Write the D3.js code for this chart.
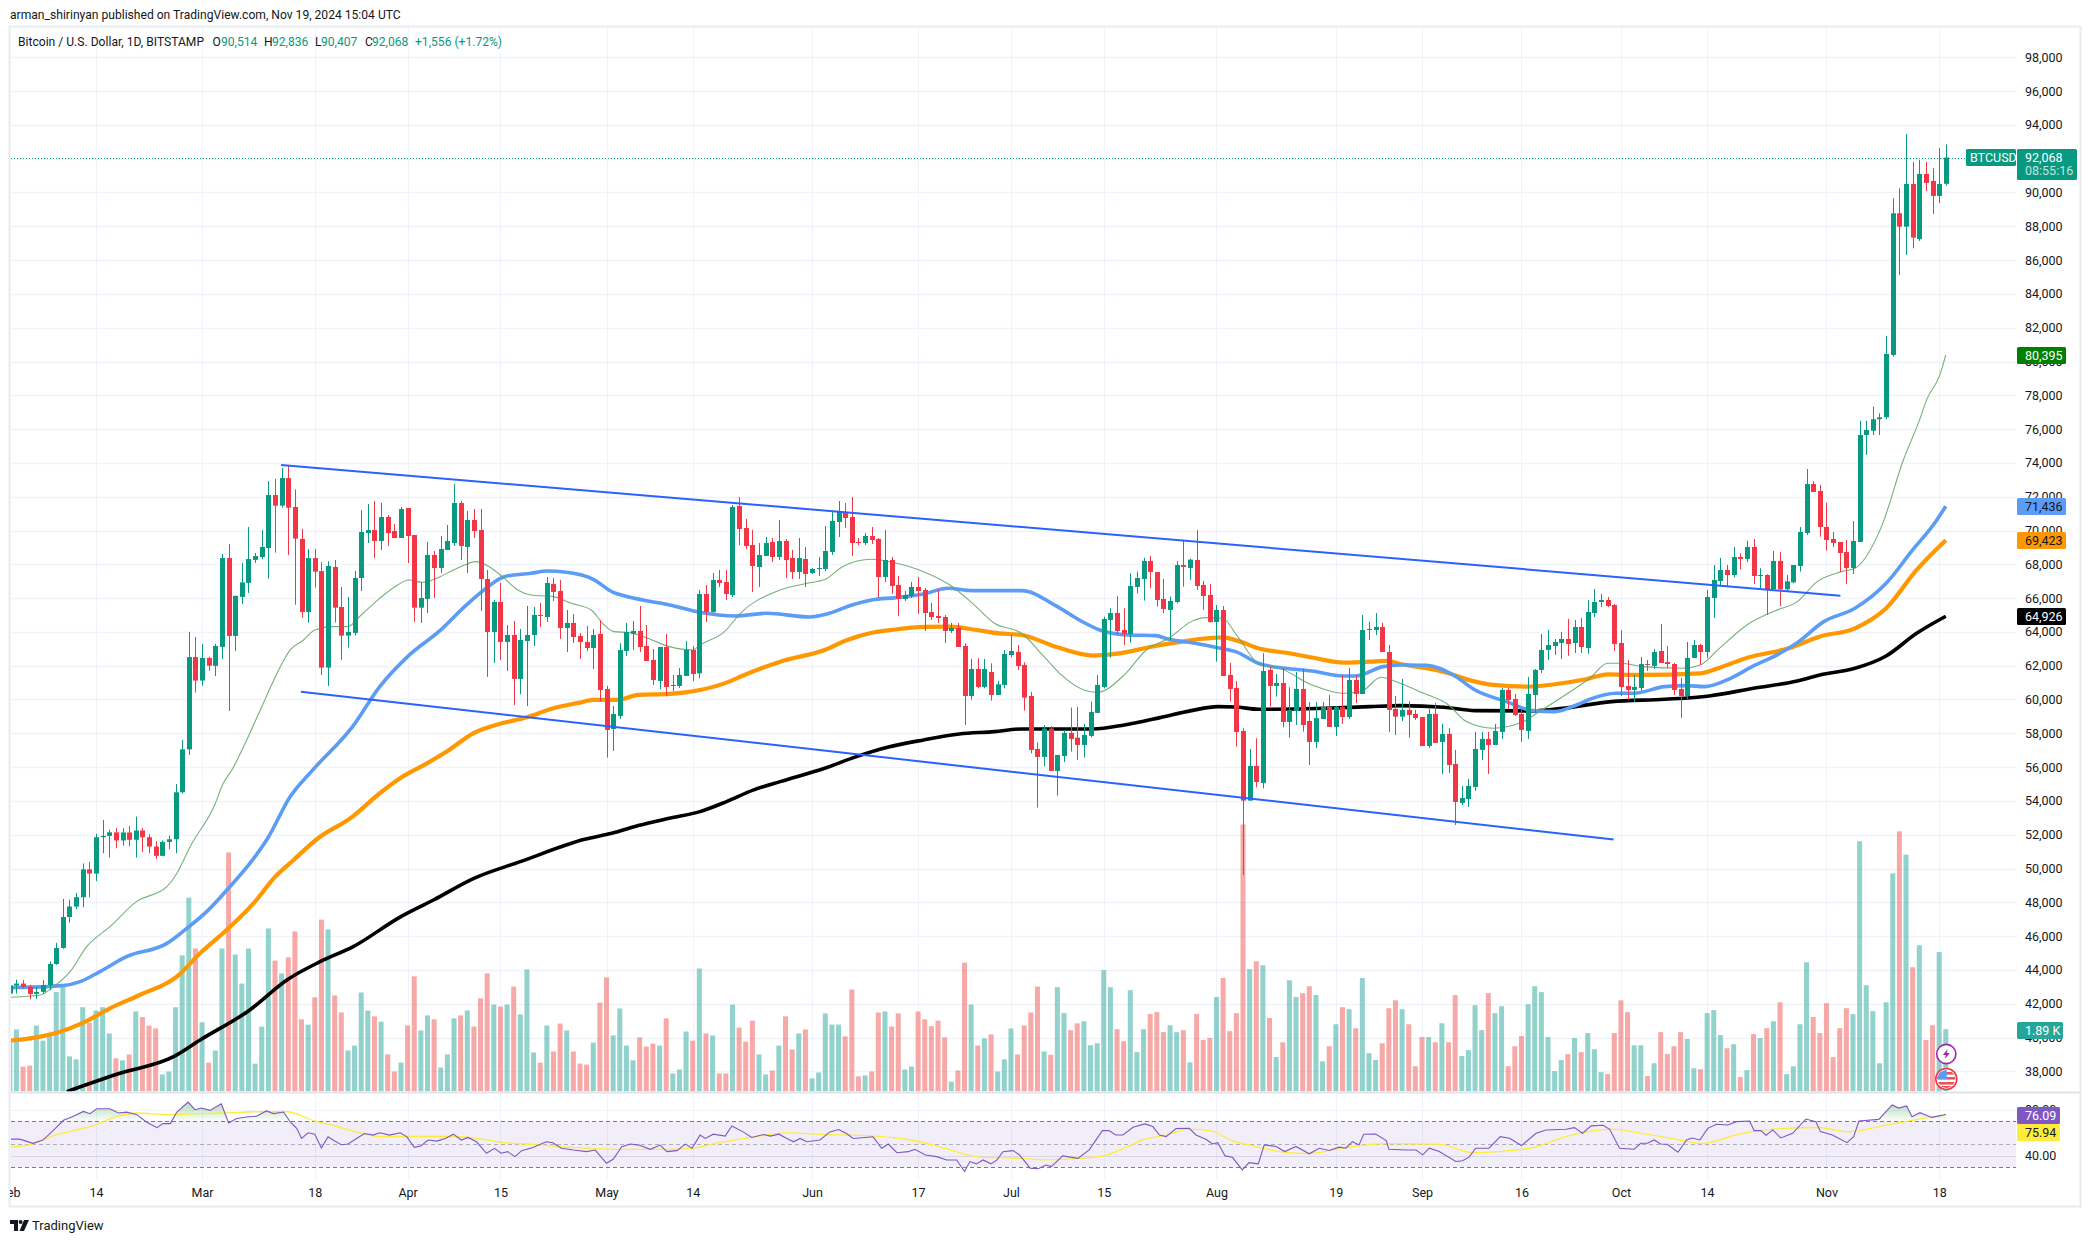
<!DOCTYPE html>
<html><head><meta charset="utf-8">
<script src="https://cdn.jsdelivr.net/npm/d3@7"></script>
<style>
html,body{margin:0;padding:0;background:#fff}
svg{display:block}
text{font-family:Roboto,"Liberation Sans",sans-serif;font-size:12.5px;fill:#131722}
.domain{display:none}
</style></head><body><svg id="c" width="2092" height="1243"></svg>
<script>
const opens=[42600,43080,43190,43000,42580,42700,43100,44350,45300,47130,
47750,48300,49950,49700,51850,51930,52140,51660,52130,51700,
52250,51850,51300,50750,51570,51730,54510,57050,62510,61120,
62460,61990,63110,68370,63760,66070,66900,68260,68430,68965,
72100,71470,73100,71390,69500,65180,68370,67600,61886,67840,
65475,63780,63940,67190,69850,70030,69380,70800,69970,69557,
71330,69735,65435,65950,68551,67780,68847,69260,71628,69025,
70622,70030,67131,63996,65771,63404,63818,61216,63463,63818,
65002,64883,66840,66422,64232,64528,63760,63404,63050,63877,
60624,58258,59027,62871,63877,64055,63168,62340,61098,63108,
60802,60802,61393,62931,61550,66244,65179,67072,66954,66184,
71450,70148,69142,67841,68492,69320,68433,69379,68373,67545,
68314,67486,67722,67722,68728,70503,71095,70799,69320,69261,
69675,69497,67249,68255,66776,65947,66126,66658,66480,65179,
64942,64883,64055,64232,63168,60210,61807,60743,61630,60269,
60861,62635,62813,62044,60210,57075,56602,58278,55773,56660,
58021,57745,57311,57844,59205,60743,64706,65120,64115,63878,
66659,67131,68197,67546,65948,65298,65770,67960,67783,68256,
66777,66185,64588,65298,61452,60684,58139,54018,56069,55063,
61748,60802,60979,58672,59322,60623,58730,57488,58848,59558,
58375,59558,58966,61156,60328,64114,64114,64291,62812,59440,
58986,59381,59144,58967,57251,59144,57488,57961,56186,53879,
54116,54825,57015,57666,57311,58079,60564,60032,59145,58139,
60268,61748,62931,63167,63345,63581,63345,64291,63049,65120,
65770,65889,65593,63345,60801,60564,60683,62102,61984,62871,
62220,62102,60623,60209,62457,63226,62812,66007,67013,67664,
67368,68433,68315,69025,67309,67368,66520,68197,66520,66934,
67900,69853,72752,72338,70208,69498,69321,68729,67782,69321,
75651,75900,76584,76702,80389,88770,87981,90506,87252,91097,
90683,89796,90514];
const closes=[43080,43190,43000,42580,42700,43100,44350,45300,47130,47750,
48300,49950,49700,51850,51930,52140,51660,52130,51700,52250,
51850,51300,50750,51570,51730,54510,57050,62510,61120,62460,
62000,63170,68370,63760,66130,66930,68310,68490,69025,72100,
71470,73107,71350,69520,65180,68370,67565,61886,67900,65435,
63780,63996,67190,69912,70030,69380,70800,69850,69557,71273,
69675,65435,66007,68551,67780,68906,69380,71628,69084,70622,
69971,67131,63996,65771,63404,63818,61216,63523,63818,65002,
64943,66895,66363,64232,64528,63700,63404,63050,63818,60565,
58198,59145,62931,63996,64055,63108,62280,61157,63108,60742,
60860,61452,62931,61511,66244,65179,67072,66894,66244,71390,
70089,69083,67900,68551,69261,68433,69379,68255,67545,68373,
67427,67722,67782,68787,70562,71154,70740,69261,69261,69675,
69438,67249,68255,66717,65947,66185,66658,66421,65120,64883,
64824,64055,64232,63108,60210,61807,60743,61807,60269,60900,
62695,62872,61985,60111,57016,56602,58278,55773,56720,58021,
57666,57311,57903,59264,60861,64765,65120,64055,63878,66718,
67191,68197,67546,65889,65357,65830,67960,67842,68276,66718,
66126,64588,65298,61394,60624,58080,54018,56069,55122,61689,
60802,60979,58672,59382,60623,58494,57488,58907,59558,58375,
59558,58966,61156,60328,64114,64173,64291,62812,59381,58986,
59381,59085,58907,57251,59144,57429,57961,56127,53938,54175,
54885,57074,57666,57311,58138,60564,59973,59085,58198,60328,
61748,62931,63226,63404,63581,63286,64291,63108,65179,65770,
65889,65534,63286,60742,60564,60742,62102,62043,62812,62161,
62102,60564,60209,62457,63226,62812,66066,67072,67664,67368,
68433,68315,69025,67309,67368,66520,68197,66520,66993,67960,
69912,72752,72279,70208,69439,69261,68670,67782,69380,75651,
75946,76584,76700,80448,88770,87981,90506,87331,91097,90565,
89796,90506,92068];
const highs=[43300,43430,43390,43120,43000,43400,44500,45600,48200,48150,
48560,50300,50400,52050,52870,52300,52400,52380,52520,53070,
52400,52030,51620,51660,51950,54990,57600,64000,63700,63280,
62530,63290,68610,69200,66150,68080,70210,68670,70030,72930,
73050,73700,73836,72436,70090,68906,68906,68120,68180,68255,
66660,66066,67605,71213,71570,71746,71630,70918,70385,71391,
71330,69735,66954,69320,68788,69675,70326,72752,71746,71154,
71273,71273,67664,65889,66895,64410,64647,64173,65534,65475,
65712,67250,67190,67072,65298,65060,63937,64350,64173,64706,
60802,59618,63326,64528,64647,65534,64410,62990,63108,63877,
61452,61866,63463,63168,66480,66776,67486,67663,67663,71509,
71982,70680,70030,69261,69616,69557,70621,69497,68847,69557,
69024,67782,68433,70266,71095,71745,71627,71982,69557,69852,
70207,69557,70030,68433,67308,66421,66953,67249,66599,65711,
66480,65001,64528,64528,63326,62400,62438,62399,62142,61100,
62931,63819,63227,62202,60447,57469,58475,58435,56720,58199,
59520,59579,58553,59875,61452,64903,65396,66126,65396,67467,
67566,68394,68493,67546,67132,66087,68197,69439,68335,70031,
67013,66836,65594,65534,62162,61098,58297,57075,57705,62734,
61945,61512,61847,60723,61629,61807,59854,59854,59854,60268,
59617,61451,61865,61451,65001,64600,65119,64527,63226,60209,
61215,59893,59381,58967,59440,59795,58553,58316,57015,54885,
55299,58079,58079,58079,58553,60682,60682,60328,59440,61333,
61807,63877,64114,63581,63996,64765,64705,64824,65889,66539,
66244,66066,65652,64114,62339,61452,62516,62339,62990,64469,
63167,62161,61274,63404,63522,63286,66480,67959,68374,67960,
69025,68650,69400,69498,67763,67408,68788,68729,67368,67960,
70208,73639,72929,72693,71628,69912,69321,69439,70563,76499,
76500,77333,76938,81513,89658,90249,93464,91807,91925,91807,
91452,92635,92836];
const lows=[41900,42600,42900,42260,42290,42570,42800,44300,45250,46800,
47600,47700,48300,49250,50900,50650,51200,51350,51320,50650,
50980,50900,50550,50720,51150,50900,54440,56720,60408,60821,
61690,61390,62400,59320,62870,65650,66300,68080,68300,67150,
68690,71350,68550,65610,64840,64550,66620,61450,60800,64550,
62340,63070,63800,66420,69260,68374,68847,69084,69557,69557,
68078,64587,64528,65120,66007,67486,68847,69084,68255,67486,
69557,65238,61334,62162,62340,61689,59680,60308,59618,63168,
64291,64587,65830,63582,62813,63345,62400,62872,61807,59900,
56562,56956,58850,62576,62931,62813,62280,60860,60624,60210,
60506,60683,61393,61097,61255,64587,65120,66658,65889,66066,
69142,68906,66362,66658,68492,68137,68255,67190,67131,67131,
66658,67427,67309,67604,68551,69616,70148,68492,69142,69142,
69202,66007,66953,66244,64942,65829,66007,65060,64055,64705,
64528,63345,63936,63108,58494,60000,60664,60664,59934,60269,
60664,62497,61748,59342,56818,53604,56049,55773,54314,56305,
56917,56424,56562,57765,59205,60664,62478,63878,63227,63365,
66284,65850,66580,65495,65101,63523,65692,66678,67073,66481,
65298,64548,62241,61394,59875,57213,49620,54018,54807,54748,
59579,60171,58356,57745,58493,58100,56127,57133,58848,58375,
57843,58553,58848,59795,60328,63520,63818,62812,58079,57902,
58730,57744,58789,57251,57133,57429,55594,55654,52577,53761,
53642,54589,56423,55594,57311,57665,59440,59026,57488,57665,
59204,61570,62339,62635,62398,62576,62753,62753,62694,64883,
65474,65474,62871,60209,59973,59854,60505,61688,61806,62161,
61866,60268,58908,60032,62457,62043,62457,64824,66776,66678,
67230,67700,68137,66836,66580,65002,66481,65534,66382,66876,
67566,69735,72279,69636,68808,69025,67546,66836,67427,69321,
74467,75650,75650,76583,80291,85122,86305,86700,87133,90092,
88731,89381,90407];
// Volume, thousands of BTC
const volumes=[1.5,1.89,.76,.79,2.01,1.55,1.69,3.03,3.26,1.07,
.98,2.57,2.09,2.47,2.57,1.77,1.01,.95,1.13,2.44,
2.27,2.01,1.92,.52,.61,2.57,4.15,5.91,4.36,2.11,
.88,1.25,4.36,7.29,4.18,3.29,4.36,.85,1.98,4.97,
3.99,3.60,4.09,4.88,2.20,2.04,2.87,5.24,4.94,2.93,
2.41,1.25,1.40,3.02,2.47,2.29,2.13,1.13,.61,.88,
2.01,3.51,1.86,2.32,2.20,.73,1.13,2.23,2.32,2.47,
1.98,2.84,3.60,2.65,2.59,2.65,3.20,2.35,3.72,1.19,
.88,2.01,1.22,2.07,1.86,1.22,.85,.82,1.49,2.71,
3.48,1.71,2.53,1.40,.95,1.65,1.37,1.46,1.40,2.23,
.55,.67,1.83,1.55,3.75,1.77,1.71,.55,.55,2.65,
1.95,1.52,2.16,1.13,.52,.64,1.40,2.29,1.28,1.77,
1.89,.40,.58,2.38,2.04,2.04,1.68,3.11,.46,.49,
.61,2.41,2.44,1.98,2.38,.67,.76,2.44,2.20,1.99,
2.16,1.65,.30,.64,3.93,2.65,1.40,1.62,1.74,.61,
.98,1.92,1.13,2.01,2.41,3.20,1.22,1.12,3.18,2.39,
1.87,2.08,2.14,1.41,1.47,3.70,3.18,1.90,1.53,3.09,
1.20,1.90,2.36,2.42,1.81,2.02,1.81,1.87,.89,2.36,
1.57,1.63,2.88,3.46,1.84,2.39,8.14,3.73,3.97,3.85,
2.24,1.05,1.50,3.39,2.88,3.00,3.21,2.94,.92,1.38,
2.05,2.57,2.51,1.93,3.46,1.17,.96,1.47,2.54,2.78,
2.51,2.05,.77,1.66,1.66,1.50,2.08,1.50,2.94,1.08,
1.26,2.63,1.87,3.00,2.39,2.60,.77,1.38,1.69,2.66,
3.21,3.03,1.66,.62,.96,1.14,1.63,1.20,1.78,1.29,
.59,.53,1.78,2.78,2.42,1.41,1.41,.47,.86,1.81,
1.14,1.38,1.81,1.60,.71,.68,2.39,2.48,1.72,1.32,
1.44,.44,.65,1.75,1.63,1.93,2.14,2.72,.53,.77,
2.05,3.94,2.27,1.78,2.69,1.05,1.93,2.54,2.36,7.63,
3.24,2.45,.86,2.72,6.65,7.93,7.22,3.79,4.46,1.57,
2.02,4.25,1.90];
// Moving averages read at day positions (days since 1 Feb 2024)
const greenDays=[0,4.6,6.6,9.1,11.6,15.1,19.1,23.7,25.2,27.2,30.9,32.2,33.5,35.5,37.9,39.6,42.3,44.3,46,48.7,51,53,55.8,58.5,60.1,62.2,64.9,66.9,68.6,70.2,72.3,74.3,76.6,78.6,82,84.7,87.7,89.4,91.1,93.5,96.2,99.5,103,104.1,107.8,110.2,116.2,120.3,123,125.6,130,133.7,137.8,141.8,145.2,148.5,152.6,156,158.6,162,164,168.1,171.4,174.8,178.2,180.2,182.9,185.2,188.3,191.6,196.4,201.1,203.8,206.8,209.7,213,217,219.7,223.7,228.3,230.3,235,238.3,241,243,246.3,252.3,255,257.6,262,266.3,269.6,272.6,276.3,278.3,282.3,285.6,288.1,289.1,291.1,292];
const greenVals=[42378,42516,43009,43900,45376,46559,48038,48925,49714,51292,53762,55043,55833,57410,59480,60960,62931,63523,64115,64312,64312,65002,65988,66776,67072,66934,67270,67664,67960,68157,67861,67270,66481,66185,66086,65692,65298,64509,64016,63957,63621,63128,62931,63227,64016,65100,66481,66875,67112,67861,68295,68059,67566,66777,65692,64509,63917,62537,61452,60565,60427,61452,62931,63621,64608,64844,64805,63720,62142,61847,60861,60368,60466,61314,60959,60407,59677,58692,58298,58692,59184,60368,61255,62142,62142,61945,61847,62043,62932,64411,65258,65791,66974,67566,67763,70228,74172,76603,77727,79206,80395];
const blueDays=[0,8,10.6,13.6,17.6,23.7,26.7,29.7,33.2,36.2,38.9,42.3,45.7,51.7,55.8,60,65,68.6,71.2,74.6,78.6,81,84,88,91,92.8,96.2,99.5,104,109.5,114.2,120.6,123.6,127,130,133.7,137.8,141.5,145.2,152.6,158,161.3,164.4,168.7,172.8,174.8,178.8,182.6,184.9,188.3,192.3,196.4,201.1,203,207.1,209.7,213.7,217.7,221,225.7,229.7,233,236.3,238.3,242.3,245,249.6,253,255.6,259,263,267,269.6,273.6,278.3,283,287,290.3,292];
const blueVals=[42950,43068,43305,43900,44780,45570,46460,47450,48925,50300,51790,54255,55833,58396,60762,62537,64115,65495,66382,67270,67467,67600,67526,67112,66343,66126,65830,65594,65160,64943,65100,64884,65100,65593,65890,66028,66245,66580,66441,66441,65495,64706,64115,63819,63779,63562,63326,63030,62832,62142,61847,61689,61393,61393,61945,62040,62024,61452,60565,59875,59342,59283,59677,60013,60368,60368,60762,60821,60762,61157,61985,62734,63365,64608,65397,66875,68847,70425,71436];
const orangeDays=[0,4.6,7.6,11.1,15.1,19.6,25.2,28.7,32.7,37.2,39.8,42.8,46.3,51.7,55.8,59.1,62.5,65.9,69.9,73.3,78,82,86,88,91.5,94.8,99.5,104.1,108.1,110.8,116.2,122.9,126.3,130.4,133,137.8,141.8,145.8,149.2,152.6,158,163.4,166.7,172.8,176.8,179.5,182.9,185.6,188.3,193,197,201.1,205.1,207.8,209.7,213.7,217,220.4,223.7,229,233,237.7,241,245.6,255,258.3,262.3,268.3,272.9,278.3,283,287.6,292];
const orangeVals=[39815,40050,40347,40880,41727,42516,43600,44981,46362,48136,49418,50503,51730,53072,54452,55399,56128,56917,58001,58494,58948,59480,59816,59973,59973,60270,60328,60565,61000,61452,62241,62931,63523,63977,64115,64292,64311,64115,63917,63819,63089,62596,62695,63168,63425,63582,63681,63425,63030,62734,62438,62182,62241,62280,62100,61847,61551,61116,60861,60762,60900,61196,61492,61452,61551,61945,62498,63030,63720,64213,65397,67664,69423];
const blackDays=[8.6,16.6,24.7,28.7,36.2,41.8,46.8,51.8,58.8,63.9,70,77,86.7,90.8,94.8,99.5,104.1,108.1,112.2,116.2,122.9,127.7,132.4,137.8,143.2,148.5,152.6,163.4,168.1,173.5,178.2,182.2,184.9,188.3,198.4,205.1,209.7,216.3,221,229.7,234.3,241.6,249.6,256.3,263,269.6,273,278.3,283,287.6,292];
const blackVals=[36800,37882,38868,39854,41629,43404,44488,45376,47111,48136,49418,50404,51730,52085,52539,52972,53367,53959,54650,55142,55931,56620,57173,57607,57962,58100,58258,58258,58494,58928,59342,59579,59559,59421,59480,59579,59638,59539,59342,59322,59480,59875,60013,60210,60664,61097,61452,61847,62576,63917,64926];
// Channel lines: start and end as day, price
const upperDays=[40.9,276.1], upperVals=[73876,66142];
const lowerDays=[43.9,241.9], lowerVals=[60462,51716];
// RSI and its average
const rsiDays=[0,1.5,3.5,5,6.6,8.1,9.6,11.1,12.1,13.1,15.1,16.4,17.6,19.1,20.6,22.2,23.1,24.2,25.2,26.9,27.9,28.9,30.2,31.9,33,34.2,35.7,37.2,38.7,39.8,41.3,42.3,43.3,44,45,46,47,48,49,50,51,52.3,53.5,54.8,55.8,57.3,58.9,59.9,61,62,63.1,64.4,65.7,66.9,68.1,69.1,70.4,71.9,73.1,74.1,75.1,76.2,77.2,78.9,80.9,81.9,83.2,85,87,88.3,90,91,92.3,93.6,94.9,96.6,98.1,99.1,100.6,101.9,102.9,104.1,104.9,106.1,107.9,108.9,110.6,111.9,113.7,114.7,116,117.2,118.2,119.2,120.2,122.2,123.7,125,126.2,127.2,130.2,131.5,132.5,133.8,135.5,136.5,138.1,139.8,141.3,142.8,144,144.8,145.8,146.8,148,148.9,149.8,151.3,152.3,153.9,155.1,156.3,157.1,158.8,161.1,162.8,164.8,165.8,166.8,167.9,169.4,171.2,172.4,173.4,174.4,175.9,177.9,178.9,180.4,181.4,182.2,183.3,184.4,185.9,186.9,188.3,189.2,191,192.3,194,196,197.5,199,200.5,201.5,202.5,203.5,204.2,206,207.6,208,210.6,212.1,213.1,214.1,215.6,218.1,219.1,220.1,221.1,223.1,224.8,226.2,228,230.2,231.7,234.7,236,237.2,238.5,240.3,241.3,242.8,245,246,247,248,249,250,251.6,252.9,253.7,254.9,256.1,257.4,259.1,260.4,262.4,263.1,264.1,264.9,265.9,267.1,268.9,270.9,272.4,273.1,274.9,277.1,278.1,278.9,281.9,283.9,284.9,286.1,286.9,288.1,289.9,291.7,292];
const rsiVals=[54.5,54.5,50.8,53.7,62.3,70.9,74.3,78.6,76.6,80.9,80.9,77.2,78,76,69.4,64.5,68,68,78,86.7,80.1,81.5,79.5,85.3,68.6,72.4,73.8,74.4,79,76.7,78.1,69.4,63.7,55.1,60,58.8,46.7,56.5,52.8,49.6,50.2,55.1,59.4,58,60,58,60,56.5,47.3,48.5,53.7,52.8,55.1,58.8,53.7,56,52.2,42.2,46.5,42.2,43.6,39.3,44.5,47.3,52.2,51.4,46.5,45,43.6,45,33.5,37,47.9,50.2,49.3,45.6,49.3,43.6,44.5,50.2,46.5,58,55.1,58.8,57.1,66,60.8,55.9,58.5,57.1,58.8,55.1,52.2,55.1,52.2,53.7,60.8,62.9,59.4,55.1,56.5,46.5,50.2,42.7,43.6,45.6,40.7,39.3,36.4,36.4,26.4,35,33,36.4,33,36.4,43.6,44.5,40.7,29.3,28.8,32,30.6,39.9,37.8,45.1,61.9,61.9,58.1,58.1,64.8,67.7,65.4,58.1,56.7,63.6,63.9,58.1,54.3,50.3,51.4,39.9,38.7,27.7,34.1,33,49.5,48.1,43.7,48.1,41.7,46.6,44.6,47.5,46.6,52.3,49.5,58.7,59,53.2,45.7,45.1,45.1,40.8,46.6,43.7,35,35.7,38.8,46.6,46.6,56.7,55.3,48.9,59.6,62.5,63.1,64.5,59.6,66,66.5,63,46.6,45.7,50.9,50.9,53.8,50.3,50,43.1,53.8,55.5,53.8,63.9,67.4,66.8,69.7,70.3,61.9,61.9,57.9,62.5,55.5,59.6,72,69.7,61,58.1,51.4,56.7,70.3,71.7,84.2,81.5,83.3,74,77.5,73.4,75.5,76.09];
const rsiMaDays=[0,3.5,6.6,12.6,16.6,19.1,23.7,28.7,32.7,36.7,41.8,45.8,49.8,52.8,55.8,60.9,66.9,70.9,73.9,78.9,84,89,94,99.1,103.1,106.1,111.1,117.2,123.2,129.2,136.3,141.3,146.3,151.3,156.3,161.3,165.3,168.3,171.2,174.4,177.9,181.4,184.4,187.5,191.5,196,201.5,207.6,215.6,220.6,224.6,229.7,234.7,241.7,246.8,250.8,255.3,260.8,265.9,272.9,277.3,282.9,292];
const rsiMaVals=[47.5,50.4,57.6,66.2,74.9,77.2,75.8,76.6,77.2,78.3,78.3,70.6,64.8,59.9,56.8,56.8,56.8,54.7,51.9,49.9,47.6,46.1,45.6,45.6,46.7,50.4,55.3,59.9,58.5,57.6,53.3,46.1,38.9,38.1,36.5,37.7,40.6,47.2,54.5,58,63.2,61.2,53,48.7,43.7,42,47.2,50.6,50,42.8,43.7,47.2,56.7,63.2,58.8,55,50.6,58.8,63.2,64.6,60.9,66.7,75.94];
const priceTicks=d3.range(38000,98001,2000);
const rsiTicks=[40,80];
const rsiBands=[70,50,30];
const timeTickDays=[0,13,29,46,60,74,90,103,121,137,151,165,182,200,213,228,243,256,274,291];
const timeTickLabels=["Feb","14","Mar","18","Apr","15","May","14","Jun","17","Jul","15","Aug","19","Sep","16","Oct","14","Nov","18"];
const publishLine="arman_shirinyan published on TradingView.com, Nov 19, 2024 15:04 UTC";
const symbolTitle="Bitcoin / U.S. Dollar, 1D, BITSTAMP";

const GREEN="#089981",RED="#f23645",GRID="#f0f3fa",BORDER="#e0e3eb";
const L=11,R=2016,TOP=28,VB=1091.5,SEP=1092,RB=1179;
const svg=d3.select("#c");
const defs=svg.append("defs");
defs.append("clipPath").attr("id","pane").append("rect").attr("x",L).attr("y",TOP).attr("width",R-L).attr("height",VB-TOP);
defs.append("clipPath").attr("id","rsip").append("rect").attr("x",L).attr("y",SEP).attr("width",R-L).attr("height",RB-SEP);
defs.append("clipPath").attr("id","axb").append("rect").attr("x",L-1).attr("y",RB).attr("width",R-L).attr("height",28);
const grad=defs.append("linearGradient").attr("id","ob").attr("x1",0).attr("x2",0).attr("y1",0).attr("y2",1);
grad.append("stop").attr("offset",0).attr("stop-color","#4caf50").attr("stop-opacity",.42);
grad.append("stop").attr("offset",1).attr("stop-color","#4caf50").attr("stop-opacity",.02);

const x=d3.scaleLinear().domain([0,292]).range([9.8,1945.8]);
const y=d3.scaleLinear().domain([98000,38000]).range([57.3,1071.3]);
const yv=d3.scaleLinear().domain([0,10]).range([VB,VB-328]);
const yr=d3.scaleLinear().domain([70,30]).range([1121.3,1167.3]);
const snap=v=>Math.round(v)+.5;

// frame
svg.append("rect").attr("x",9.5).attr("y",26.5).attr("width",2071).attr("height",1180).attr("fill","none").attr("stroke",BORDER).attr("stroke-width",2).attr("opacity",.7);

// grid
const g=svg.append("g");
g.selectAll("line.v").data(timeTickDays.slice(1)).join("line").attr("x1",d=>snap(x(d))).attr("x2",d=>snap(x(d))).attr("y1",TOP).attr("y2",RB).attr("stroke",GRID);
g.selectAll("line.h").data(priceTicks).join("line").attr("x1",L).attr("x2",R).attr("y1",d=>snap(y(d))).attr("y2",d=>snap(y(d))).attr("stroke",GRID).attr("stroke-width",1.4);

// volume
const days=d3.range(opens.length);
const vw=5;
const chart=svg.append("g").attr("clip-path","url(#pane)");
chart.selectAll("rect.vol").data(days).join("rect").attr("class","vol")
 .attr("x",d=>x(d)-vw/2).attr("width",vw).attr("y",d=>yv(volumes[d])).attr("height",d=>VB-yv(volumes[d]))
 .attr("fill",d=>closes[d]>=opens[d]?"#26a69a":"#ef5350").attr("opacity",.5);

// moving averages
const pl=(ds,vs,c)=>d3.line().x((d,i)=>x(ds[i])).y((d,i)=>y(vs[i])).curve(c||d3.curveLinear)(vs);
const mas=[[blackDays,blackVals,"#000",3.6,1],[orangeDays,orangeVals,"#ff9800",4.2,1],[blueDays,blueVals,"#5b9cf6",3.6,1],[greenDays,greenVals,"#66a96a",1.1,.9]];
mas.forEach(m=>chart.append("path").attr("d",pl(m[0],m[1],d3.curveMonotoneX)).attr("fill","none").attr("stroke",m[2]).attr("stroke-width",m[3]).attr("stroke-opacity",m[4]).attr("stroke-linejoin","round"));

// candles
chart.selectAll("line.w").data(days).join("line")
 .attr("x1",d=>snap(x(d))).attr("x2",d=>snap(x(d))).attr("y1",d=>y(highs[d])).attr("y2",d=>y(lows[d]))
 .attr("stroke",d=>closes[d]>=opens[d]?GREEN:RED).attr("stroke-width",1);
chart.selectAll("rect.b").data(days).join("rect")
 .attr("x",d=>snap(x(d))-2.5).attr("width",5)
 .attr("y",d=>y(Math.max(opens[d],closes[d])))
 .attr("height",d=>Math.max(1,Math.abs(y(opens[d])-y(closes[d]))))
 .attr("fill",d=>closes[d]>=opens[d]?GREEN:RED);

// channel
[[upperDays,upperVals],[lowerDays,lowerVals]].forEach(t=>chart.append("path").attr("d",pl(t[0],t[1])).attr("fill","none").attr("stroke","#2962ff").attr("stroke-width",2));

// last close dotted
svg.append("line").attr("x1",L).attr("x2",1966).attr("y1",snap(y(closes[292]))).attr("y2",snap(y(closes[292]))).attr("stroke",GREEN).attr("stroke-dasharray","1,2");

// RSI
const rp=svg.append("g").attr("clip-path","url(#rsip)");
rp.append("rect").attr("x",L).attr("width",R-L).attr("y",yr(70)).attr("height",yr(30)-yr(70)).attr("fill","#7e57c2").attr("opacity",.1);
rsiTicks.forEach(t=>rp.append("line").attr("x1",L).attr("x2",R).attr("y1",snap(yr(t))).attr("y2",snap(yr(t))).attr("stroke",t==80?GRID:"#d9d6e8").attr("stroke-width",1));
rp.append("path").attr("fill","url(#ob)")
 .attr("d",d3.area().x((d,i)=>x(rsiDays[i])).y0(yr(70)).y1(d=>yr(Math.max(d,70)))(rsiVals));
rsiBands.forEach(b=>rp.append("line").attr("x1",L).attr("x2",R).attr("y1",snap(yr(b))).attr("y2",snap(yr(b))).attr("stroke","#787b86").attr("stroke-width",1.2).attr("stroke-dasharray","4,3").attr("opacity",b==50?.55:1));
rp.append("path").attr("fill","none").attr("stroke","#ffeb3b").attr("stroke-width",1.3)
 .attr("d",d3.line().x((d,i)=>x(rsiMaDays[i])).y(d=>yr(d)).curve(d3.curveMonotoneX)(rsiMaVals));
rp.append("path").attr("fill","none").attr("stroke","#7e57c2").attr("stroke-width",1.1)
 .attr("d",d3.line().x((d,i)=>x(rsiDays[i])).y(d=>yr(d))(rsiVals));

// pane separator
svg.append("line").attr("x1",L).attr("x2",2081).attr("y1",SEP+.5).attr("y2",SEP+.5).attr("stroke",BORDER).attr("stroke-width",2);

// axes
const ay=d3.axisRight(y).tickValues(priceTicks).tickFormat(d3.format(",")).tickSize(0).tickPadding(0);
const gy=svg.append("g").attr("transform",`translate(2025,0)`).call(ay);
gy.selectAll("text").attr("dy","0.32em");
const ar=d3.axisRight(yr).tickValues(rsiTicks).tickFormat(d3.format(".2f")).tickSize(0).tickPadding(0);
svg.append("g").attr("transform",`translate(2025,0)`).call(ar).selectAll("text").attr("dy","0.32em");
const ax=d3.axisBottom(x).tickValues(timeTickDays).tickFormat((d,i)=>timeTickLabels[i]).tickSize(0).tickPadding(0);
const gx=svg.append("g").attr("clip-path","url(#axb)").append("g").attr("transform",`translate(0,1188)`).call(ax);
gx.selectAll("text").attr("dy","0.71em").style("font-size","12.5px");

// header
svg.append("text").attr("x",10).attr("y",19).style("font-size","12.1px").text(publishLine);
const lg=svg.append("text").attr("y",46).style("font-size","12.1px");
lg.append("tspan").attr("x",18).text(symbolTitle);
[[212.5,"O",1],[221,"90,514",0],[264,"H",1],[272,"92,836",0],[315,"L",1],[321,"90,407",0],[365,"C",1],[372,"92,068",0],[415,"+1,556 (+1.72%)",0]]
 .forEach(p=>lg.append("tspan").attr("x",p[0]).style("fill",p[2]?"#131722":GREEN).text(p[1]));

// price tags
function box(x0,x1,y0,y1,bg){
 svg.append("rect").attr("x",x0).attr("y",y0).attr("width",x1-x0).attr("height",y1-y0).attr("fill",bg).attr("rx",1.5);
}
function label(tx,ty,fg,txt){
 svg.append("text").attr("x",tx).attr("y",ty).attr("dy","0.35em").style("fill",fg).style("font-size","12.5px").text(txt);
}
function tag(x0,x1,y0,y1,bg,fg,txt,tx){
 box(x0,x1,y0,y1,bg);
 label(tx||x0+8,(y0+y1)/2,fg,txt);
}
tag(1966,2016,149,166,GREEN,"#fff","BTCUSD",1970);
box(2017,2077,149,180,GREEN);
label(2025,157.5,"#fff","92,068");
label(2025,171,"#bfe6de","08:55:16");
tag(2017,2066,347,364,"#008000","#fff",d3.format(",")(greenVals[greenVals.length-1]));
tag(2017,2066,498,515,"#5b9cf6","#131722",d3.format(",")(blueVals[blueVals.length-1]));
tag(2017,2066,532,549,"#ff9800","#131722",d3.format(",")(orangeVals[orangeVals.length-1]));
tag(2017,2066,608,625,"#000","#fff",d3.format(",")(blackVals[blackVals.length-1]));
tag(2017,2063,1022,1039,"#26a69a","#fff","1.89 K");
tag(2017,2060,1107,1124,"#7e57c2","#fff",d3.format(".2f")(rsiVals[rsiVals.length-1]));
tag(2017,2060,1124,1141,"#ffeb3b","#131722",d3.format(".2f")(rsiMaVals[rsiMaVals.length-1]));

// event icons
const ix=1946.3;
const i1=svg.append("g").attr("transform",`translate(${ix},1054)`);
i1.append("circle").attr("r",9.6).attr("fill","#fff").attr("stroke","#9c27b0").attr("stroke-width",1.6);
i1.append("path").attr("d","M1.5,-5 L-3.5,1 L-0.5,1 L-1.5,5 L3.5,-1 L0.5,-1 Z").attr("fill","#9c27b0");
const i2=svg.append("g").attr("transform",`translate(${ix},1079)`);
defs.append("clipPath").attr("id","flag").append("circle").attr("r",9);
i2.append("circle").attr("r",10.5).attr("fill","#fff").attr("stroke","#f23645").attr("stroke-width",1.6);
const f=i2.append("g").attr("clip-path","url(#flag)");
f.append("rect").attr("x",-10).attr("y",-10).attr("width",20).attr("height",20).attr("fill","#fff");
[-7,-2,3,7].forEach(s=>f.append("rect").attr("x",-10).attr("y",s).attr("width",20).attr("height",2.6).attr("fill","#f0525c"));
f.append("rect").attr("x",-10).attr("y",-10).attr("width",10.5).attr("height",10).attr("fill","#5b9cf6");

// TradingView mark
const lg2=svg.append("g").attr("transform","translate(10,1220)");
lg2.append("path").attr("d","M0,0 H8 V11 H4 V4 H0 Z M14,0 H19 L14,11 H9.5 Z").attr("fill","#131722");
lg2.append("circle").attr("cx",10.6).attr("cy",2).attr("r",2).attr("fill","#131722");
svg.append("text").attr("x",32).attr("y",1230).style("font-size","13px").text("TradingView");
</script></body></html>
